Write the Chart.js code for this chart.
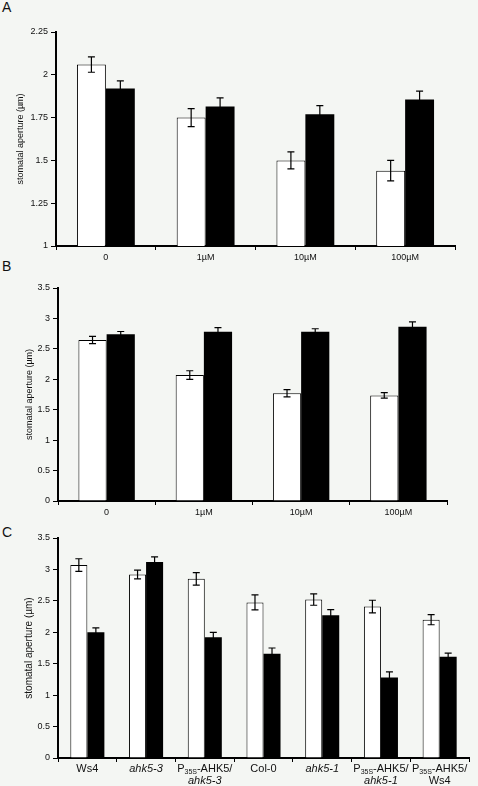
<!DOCTYPE html>
<html>
<head>
<meta charset="utf-8">
<script src="https://cdn.jsdelivr.net/npm/chart.js@4"></script>
<style>
  html, body { margin: 0; padding: 0; background: #f4f6f3; }
  #page { position: relative; width: 478px; height: 786px; overflow: hidden; }
  canvas { position: absolute; left: 0; }
  .lbl { position: absolute; left: 2px; font: 14px "Liberation Sans", Arial, sans-serif; line-height: 14px; color: #111; }
</style>
</head>
<body>
<div id="page">
  <div class="lbl" style="top:0px">A</div>
  <div class="lbl" style="top:259px">B</div>
  <div class="lbl" style="top:525px">C</div>
  <canvas id="chartA" width="478" height="262" style="top:0px"></canvas>
  <canvas id="chartB" width="478" height="262" style="top:262px"></canvas>
  <canvas id="chartC" width="478" height="262" style="top:524px"></canvas>
</div>
<script>
// datos
const doses = ['0', '1µM', '10µM', '100µM'];

const aWhite = [2.06, 1.75, 1.50, 1.44];
const aWhiteErr = [0.045, 0.053, 0.05, 0.06];
const aBlack = [1.92, 1.815, 1.77, 1.855];
const aBlackErr = [0.045, 0.05, 0.05, 0.05];

const bWhite = [2.645, 2.07, 1.77, 1.735];
const bWhiteErr = [0.06, 0.07, 0.06, 0.045];
const bBlack = [2.74, 2.78, 2.78, 2.865];
const bBlackErr = [0.045, 0.07, 0.05, 0.08];

const lines = [['Ws4'], ['ahk5-3'], ['P35S-AHK5/', 'ahk5-3'], ['Col-0'], ['ahk5-1'], ['P35S-AHK5/', 'ahk5-1'], ['P35S-AHK5/', 'Ws4']];
const cWhite = [3.07, 2.92, 2.85, 2.475, 2.52, 2.41, 2.20];
const cWhiteErr = [0.1, 0.07, 0.1, 0.12, 0.09, 0.1, 0.08];
const cBlack = [2.0, 3.12, 1.92, 1.66, 2.27, 1.28, 1.61];
const cBlackErr = [0.07, 0.08, 0.08, 0.09, 0.09, 0.09, 0.06];

const FONT = '"Liberation Sans", Arial, sans-serif';
Chart.defaults.font.family = FONT;
Chart.defaults.color = '#111';

// barras de error dibujadas con la escala y
const errorBars = {
    id: 'errorBars',
    afterDatasetsDraw(chart) {
        const ctx = chart.ctx;
        const y = chart.scales.y;
        ctx.save();
        ctx.strokeStyle = '#000';
        ctx.lineWidth = 1.2;
        chart.data.datasets.forEach((ds, di) => {
            chart.getDatasetMeta(di).data.forEach((bar, i) => {
                const yt = y.getPixelForValue(ds.data[i] + ds.errors[i]);
                const yb = y.getPixelForValue(ds.data[i] - ds.errors[i]);
                ctx.beginPath();
                ctx.moveTo(bar.x, yt); ctx.lineTo(bar.x, yb);
                ctx.moveTo(bar.x - 3.5, yt); ctx.lineTo(bar.x + 3.5, yt);
                ctx.moveTo(bar.x - 3.5, yb); ctx.lineTo(bar.x + 3.5, yb);
                ctx.stroke();
            });
        });
        ctx.restore();
    }
};

// etiquetas del panel C con subindice e italica
const richLabels = {
    id: 'richLabels',
    afterDraw(chart) {
        const ctx = chart.ctx;
        const x = chart.scales.x;
        const base = chart.chartArea.bottom;
        ctx.save();
        ctx.fillStyle = '#111';
        ctx.textBaseline = 'middle';
        chart.data.labels.forEach((lab, i) => {
            const cx = x.getPixelForValue(i);
            lab.forEach((txt, li) => {
                const yy = base + 11 + li * 12;
                let segs;
                if (txt.startsWith('P35S')) {
                    segs = [{ t: 'P', s: 11 }, { t: '35S', s: 7, dy: 3 }, { t: txt.slice(4), s: 11 }];
                } else {
                    segs = [{ t: txt, s: 11, it: txt.indexOf('ahk') === 0 }];
                }
                let w = 0;
                segs.forEach(sg => {
                    ctx.font = (sg.it ? 'italic ' : '') + sg.s + 'px ' + FONT;
                    sg.w = ctx.measureText(sg.t).width;
                    w += sg.w;
                });
                let px = cx - w / 2;
                segs.forEach(sg => {
                    ctx.font = (sg.it ? 'italic ' : '') + sg.s + 'px ' + FONT;
                    ctx.fillText(sg.t, px, yy + (sg.dy || 0));
                    px += sg.w;
                });
            });
        });
        ctx.restore();
    }
};

function makePanel(id, cats, white, whiteErr, black, blackErr, o) {
    const ctx = document.getElementById(id).getContext('2d');
    return new Chart(ctx, {
        type: 'bar',
        data: {
            labels: cats,
            datasets: [
                { data: white, errors: whiteErr, backgroundColor: '#fff', borderColor: '#000', borderWidth: 1 },
                { data: black, errors: blackErr, backgroundColor: '#000', borderColor: '#000', borderWidth: 0 }
            ]
        },
        options: {
            responsive: false,
            animation: false,
            events: [],
            barPercentage: 1,
            categoryPercentage: 0.58,
            layout: { padding: { top: o.top, right: o.right, left: 0, bottom: 0 } },
            plugins: { legend: { display: false }, tooltip: { enabled: false } },
            scales: {
                x: {
                    grid: { offset: true, drawOnChartArea: false, drawTicks: true, tickLength: 4, color: '#000' },
                    border: { display: true, color: '#000', width: 2 },
                    ticks: {
                        padding: 2,
                        font: { size: 9 },
                        callback: o.rich ? () => '' : function (v) { return this.getLabelForValue(v); }
                    },
                    afterFit: s => { s.height = o.xh; }
                },
                y: {
                    min: o.min, max: o.max,
                    grid: { drawOnChartArea: false, drawTicks: true, tickLength: 5, color: '#000' },
                    border: { display: true, color: '#000', width: 2 },
                    ticks: { stepSize: o.step, padding: 3, font: { size: 9 }, callback: v => String(+v.toFixed(2)) },
                    title: { display: true, text: 'stomatal aperture (µm)', font: { size: o.tsize }, padding: { top: o.tpad, bottom: 0 } },
                    afterFit: s => { s.width = o.yw; }
                }
            }
        },
        plugins: o.rich ? [errorBars, richLabels] : [errorBars]
    });
}

makePanel('chartA', doses, aWhite, aWhiteErr, aBlack, aBlackErr,
    { top: 32, right: 23, xh: 16, yw: 56, min: 1, max: 2.25, step: 0.25, tpad: 15, tsize: 9 });
makePanel('chartB', doses, bWhite, bWhiteErr, bBlack, bBlackErr,
    { top: 26, right: 31, xh: 23, yw: 58, min: 0, max: 3.5, step: 0.5, tpad: 24, tsize: 9 });
makePanel('chartC', lines, cWhite, cWhiteErr, cBlack, cBlackErr,
    { top: 14, right: 9, xh: 28, yw: 58, min: 0, max: 3.5, step: 0.5, tpad: 23.5, tsize: 10, rich: true });
</script>
</body>
</html>
